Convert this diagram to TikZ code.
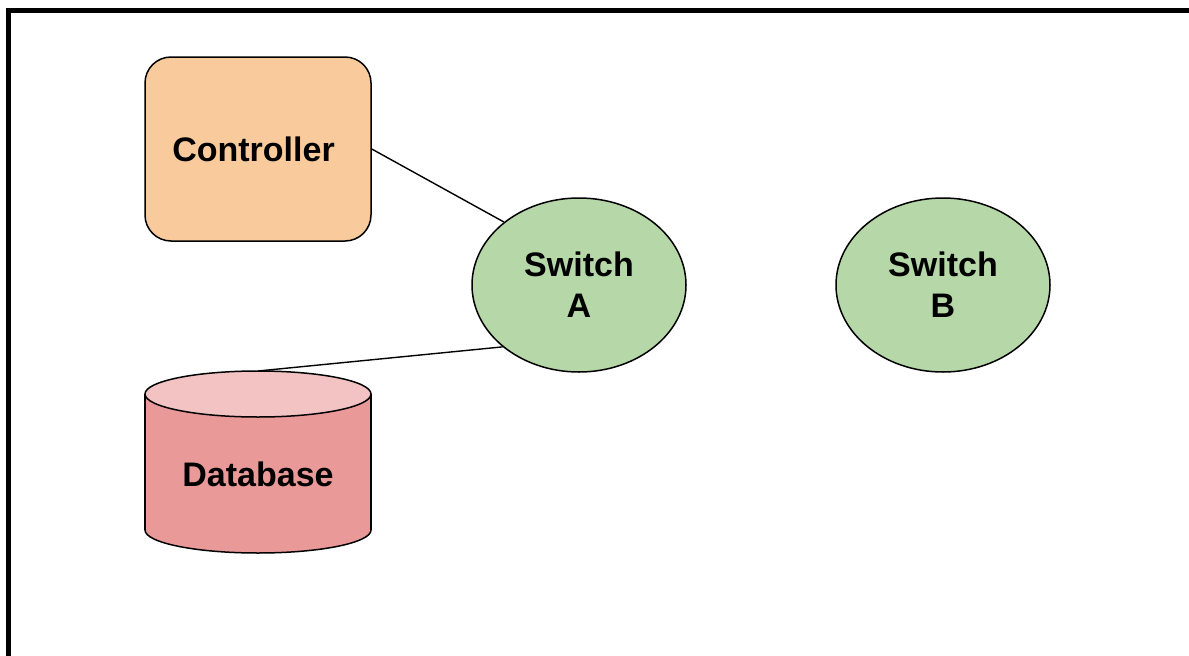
\documentclass[tikz,border=0pt]{standalone}
\usepackage{fontspec}
\setmainfont{Liberation Sans}
\usetikzlibrary{shapes.geometric}
\definecolor{ctrlfill}{HTML}{F9CB9C}
\definecolor{swfill}{HTML}{B6D7A8}
\definecolor{dbbody}{HTML}{EA9999}
\definecolor{dbtop}{HTML}{F3C3C3}
\tikzset{
  lbl/.style={font=\fontsize{34}{41}\selectfont\bfseries, align=center, text=black},
  ctrlbox/.style={lbl, draw=black, line width=1.5pt, fill=ctrlfill, rectangle,
    rounded corners=26pt, minimum width=226pt, minimum height=184pt, inner sep=0pt},
  switchnode/.style={lbl, draw=black, line width=1.5pt, fill=swfill, ellipse,
    minimum width=214pt, minimum height=174pt, inner sep=0pt},
  link/.style={draw=black, line width=1.4pt},
  dbline/.style={draw=black, line width=1.5pt}
}
\begin{document}
\begin{tikzpicture}[x=1pt, y=-1pt]
  \useasboundingbox (0,0) rectangle (1189,656);
  \clip (0,0) rectangle (1189,656);
  \fill[white] (0,0) rectangle (1189,656);
  % outer frame, running past the right and bottom edges
  \draw[line width=5pt] (8.5,10.8) rectangle (1260,720);

  % controller
  \node[ctrlbox] (ctrl) at (258,149) {\hspace*{-9pt}Controller};

  % switches
  \node[switchnode] (swA) at (579,285) {Switch\\A};
  \node[switchnode] (swB) at (943,285) {Switch\\B};

  % database cylinder
  \draw[dbline, fill=dbbody] (258,530) ellipse [x radius=113, y radius=23];
  \fill[dbbody] (145,394) rectangle (371,530);
  \draw[dbline] (145,394) -- (145,530);
  \draw[dbline] (371,394) -- (371,530);
  \draw[dbline, fill=dbtop] (258,394) ellipse [x radius=113, y radius=23];
  \node[lbl, inner sep=0pt, minimum width=226pt, minimum height=110pt] (db) at (258,474) {Database};
  \coordinate (dbtop) at (258,371);

  % links
  \draw[link] (ctrl.east) -- (swA.140);
  \draw[link] (dbtop) -- (swA.219);
\end{tikzpicture}
\end{document}
